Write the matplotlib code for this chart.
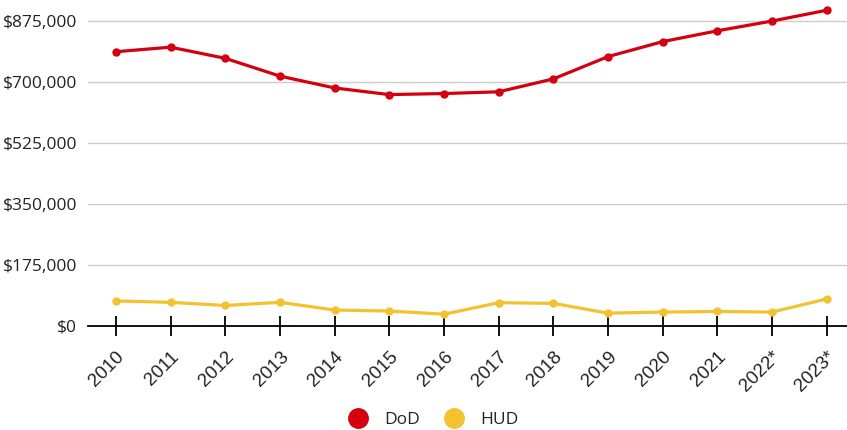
import matplotlib
matplotlib.use("Agg")
import matplotlib.pyplot as plt
from matplotlib.lines import Line2D
import matplotlib.transforms as mtransforms

years = ["2010", "2011", "2012", "2013", "2014", "2015", "2016", "2017",
         "2018", "2019", "2020", "2021", "2022*", "2023*"]
dod = [786000, 799000, 767000, 716000, 682000, 663000, 666000, 671000,
       708000, 772000, 815000, 846000, 874000, 905000]
hud = [71000, 67000, 58000, 67000, 45000, 42000, 33000, 66000,
       64000, 36000, 39000, 41000, 39000, 77000]
yticks = [0, 175000, 350000, 525000, 700000, 875000]
ytick_labels = ["$0", "$175,000", "$350,000", "$525,000", "$700,000", "$875,000"]

RED = "#D40010"
YEL = "#F2C230"

fig = plt.figure(figsize=(8.47, 4.30), dpi=100)
ax = fig.add_axes([88/847, 1-325.7/430, (847-88)/847, (325.7-5)/430])

x = list(range(len(years)))
ax.plot(x, dod, color=RED, lw=2.3, marker="o", ms=5, zorder=3, clip_on=False)
ax.plot(x, hud, color=YEL, lw=2.3, marker="o", ms=5, zorder=3, clip_on=False)

ax.set_xlim(-0.51, 13.37)
ax.set_ylim(0, 920000)

for s in ["top", "right", "left"]:
    ax.spines[s].set_visible(False)
ax.spines["bottom"].set_color("black")
ax.spines["bottom"].set_linewidth(1.3)
ax.grid(axis="y", color="#cccccc", lw=1.0)
ax.set_axisbelow(True)
ax.tick_params(axis="y", length=0, pad=8)
ax.tick_params(axis="x", direction="inout", length=14, width=1.3, color="black", pad=2)

ax.set_yticks(yticks)
ax.set_yticklabels(ytick_labels, fontfamily="Open Sans", fontsize=12.5, color="#222222")
ax.set_xticks(x)
ax.set_xticklabels(years, rotation=45, ha="right", va="center",
                   rotation_mode="anchor", fontfamily="Liberation Sans",
                   fontsize=13.5, color="#222222")
offset = mtransforms.ScaledTranslation(6/100, -16/100, fig.dpi_scale_trans)
for lab in ax.get_xticklabels():
    lab.set_transform(lab.get_transform() + offset)

handles = [Line2D([], [], ls="", marker="o", ms=14, color=RED, label="DoD"),
           Line2D([], [], ls="", marker="o", ms=14, color=YEL, label="HUD")]
leg = fig.legend(handles=handles, loc="center", bbox_to_anchor=(0.507, 1-420/430),
                 ncol=2, frameon=False, handletextpad=0.5, columnspacing=0.95,
                 prop={"family": "Open Sans", "size": 12.5})
for t in leg.get_texts():
    t.set_color("#222222")

fig.savefig("out.png", dpi=100)
